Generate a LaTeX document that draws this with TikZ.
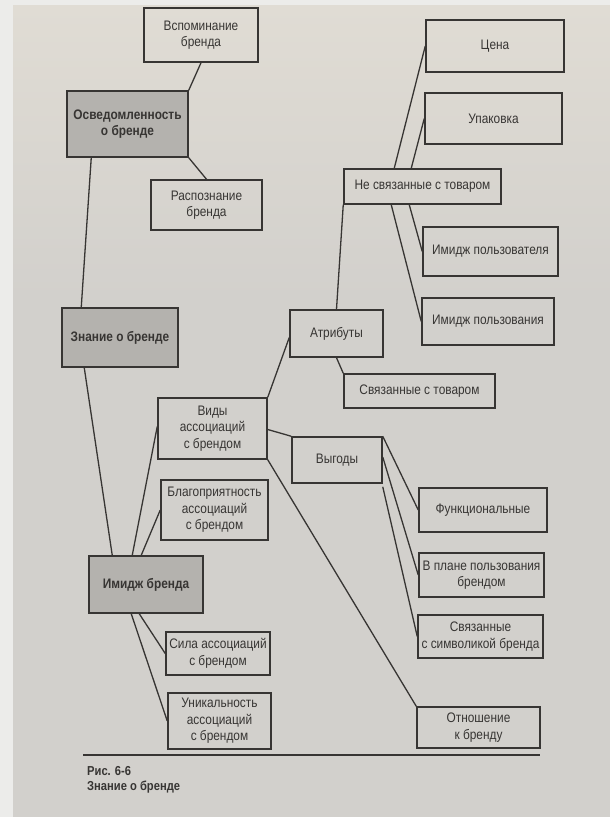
\documentclass[tikz,border=0pt]{standalone}
\usepackage{fontspec}
\setmainfont{Liberation Sans}[FakeStretch=0.86]
\usepackage{tikz}
\usetikzlibrary{positioning}
\definecolor{pg_edge}{RGB}{236,236,234}
\definecolor{pg_top}{RGB}{224,220,212}
\definecolor{pg_paper}{RGB}{210,208,204}
\definecolor{pg_key}{RGB}{180,178,174}
\definecolor{pg_ink}{RGB}{55,53,51}
\tikzset{
    box/.style={
        draw=pg_ink, line width=1.5pt, text=pg_ink, align=center,
        inner sep=2pt, font=\fontsize{13.8}{16.5}\selectfont
    },
    keybox/.style={
        box, fill=pg_key, font=\fontsize{13.8}{16.5}\selectfont\bfseries
    },
    link/.style={draw=pg_ink, line width=1.3pt},
}

\begin{document}
\begin{tikzpicture}[x=1pt, y=-1pt]
    \fill[pg_edge] (0,0) rectangle (610,817);
    \shade[top color=pg_top, bottom color=pg_paper] (13,5) rectangle (610,300);
    \fill[pg_paper] (13,299) rectangle (610,817);
    \useasboundingbox (0,0) rectangle (610,817);

    \node[keybox, minimum width=121pt, minimum height=66pt] (awareness)
        at (127.5,124) {Осведомленность\\о бренде};
    \node[box, minimum width=114pt, minimum height=54pt] (recall)
        at (201,35) {Вспоминание\\бренда};
    \node[box, minimum width=111pt, minimum height=50pt] (recognition)
        at (206.5,205) {Распознание\\бренда};
    \node[keybox, minimum width=116pt, minimum height=59pt] (knowledge)
        at (120,337.5) {Знание о бренде};
    \node[keybox, minimum width=114pt, minimum height=57pt] (image)
        at (146,584.5) {Имидж бренда};

    \node[box, minimum width=109pt, minimum height=61pt] (types)
        at (212.5,428.5) {Виды\\ассоциаций\\с брендом};
    \node[box, minimum width=107pt, minimum height=60pt] (favor)
        at (214.5,510) {Благоприятность\\ассоциаций\\с брендом};
    \node[box, minimum width=104pt, minimum height=43pt] (strength)
        at (218,653.5) {Сила ассоциаций\\с брендом};
    \node[box, minimum width=103pt, minimum height=56pt] (unique)
        at (219.5,721) {Уникальность\\ассоциаций\\с брендом};

    \node[box, minimum width=93pt, minimum height=47pt] (attrib)
        at (336.5,333.5) {Атрибуты};
    \node[box, minimum width=157pt, minimum height=35pt] (nonprod)
        at (422.5,186.5) {Не связанные с товаром};
    \node[box, minimum width=151pt, minimum height=34pt] (prod)
        at (419.5,391) {Связанные с товаром};
    \node[box, minimum width=138pt, minimum height=52pt] (price)
        at (495,46) {Цена};
    \node[box, minimum width=137pt, minimum height=51pt] (pack)
        at (493.5,118.5) {Упаковка};
    \node[box, minimum width=135pt, minimum height=49pt] (userimg)
        at (490.5,251.5) {Имидж пользователя};
    \node[box, minimum width=132pt, minimum height=47pt] (usageimg)
        at (488,321.5) {Имидж пользования};

    \node[box, minimum width=90pt, minimum height=46pt] (benefit)
        at (337,460) {Выгоды};
    \node[box, minimum width=128pt, minimum height=44pt] (func)
        at (483,510) {Функциональные};
    \node[box, minimum width=125pt, minimum height=44pt] (usage)
        at (481.5,575) {В плане пользования\\брендом};
    \node[box, minimum width=125pt, minimum height=43pt] (symbol)
        at (480.5,636.5) {Связанные\\с символикой бренда};
    \node[box, minimum width=123pt, minimum height=41pt] (attitude)
        at (478.5,727.5) {Отношение\\к бренду};

    \draw[link] (recall.south) -- (awareness.north east);
    \draw[link] (awareness.south east) -- (recognition.north);
    \draw[link] ([xshift=25pt]awareness.south west) -- ([xshift=20pt]knowledge.north west);
    \draw[link] ([xshift=23pt]knowledge.south west) -- ([xshift=24pt]image.north west);
    \draw[link] ([yshift=2pt]types.west) -- ([xshift=44pt]image.north west);
    \draw[link] (favor.west) -- ([xshift=53pt]image.north west);
    \draw[link] ([xshift=51pt]image.south west) -- (strength.west);
    \draw[link] ([xshift=43pt]image.south west) -- (unique.west);

    \draw[link] (types.north east) -- ([yshift=-4pt]attrib.west);
    \draw[link] ([yshift=-1pt]types.east) -- (benefit.north west);
    \draw[link] (types.south east) -- (attitude.north west);

    \draw[link] (attrib.north) -- (nonprod.south west);
    \draw[link] (attrib.south) -- (prod.north west);
    \draw[link] ([xshift=51pt]nonprod.north west) -- (price.west);
    \draw[link] ([xshift=68pt]nonprod.north west) -- (pack.west);
    \draw[link] ([xshift=66pt]nonprod.south west) -- (userimg.west);
    \draw[link] ([xshift=48pt]nonprod.south west) -- (usageimg.west);

    \draw[link] (benefit.north east) -- (func.west);
    \draw[link] ([yshift=3pt]benefit.east) -- (usage.west);
    \draw[link] ([yshift=-3pt]benefit.south east) -- (symbol.west);

    \coordinate (rulestart) at (83,755);
    \coordinate (ruleend) at (540,755);
    \draw[link] (rulestart) -- (ruleend);
    \node[anchor=north west, inner sep=0pt, align=left, text=pg_ink,
        font=\fontsize{13}{15.5}\selectfont\bfseries] (caption)
        at (87,766) {Рис. 6-6\\Знание о бренде};
\end{tikzpicture}
\end{document}
